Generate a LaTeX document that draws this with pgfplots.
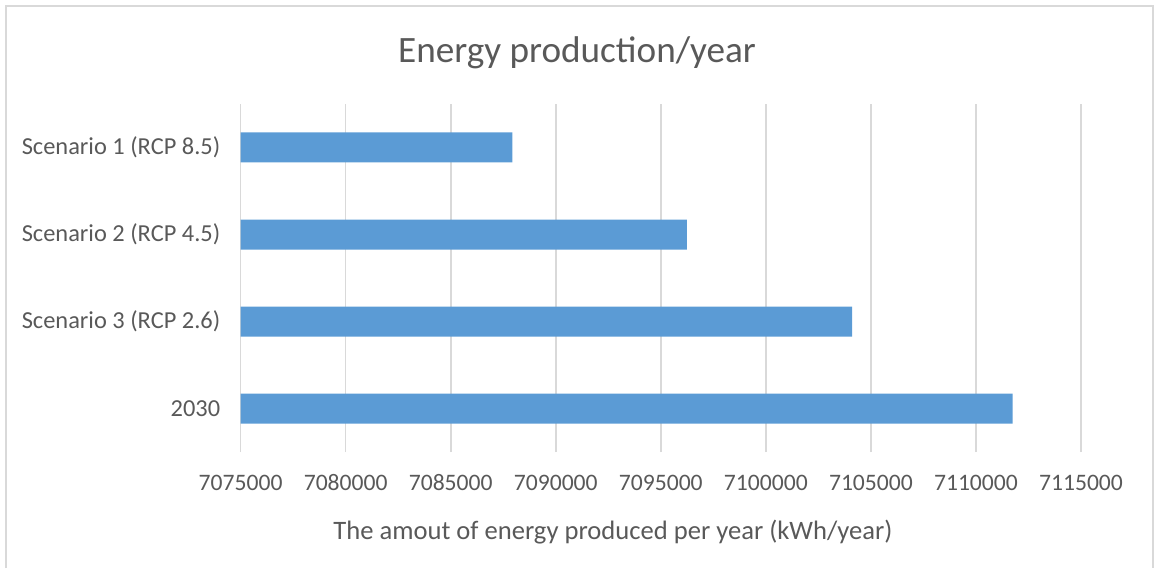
\documentclass[border=0pt]{standalone}
\usepackage{pgfplots}
\pgfplotsset{compat=1.18}
\usepackage{pgfplotstable}
\usepackage{fontspec}
\setmainfont{Carlito}
\definecolor{barblue}{HTML}{5B9BD5}
\definecolor{txt}{HTML}{595959}
\definecolor{gridc}{HTML}{D9D9D9}
\pgfplotstableread{
pos value
0 7111750
1 7104100
2 7096240
3 7087940
}\energydata
\begin{document}
\begin{tikzpicture}
\useasboundingbox (0,0) rectangle (577pt,284pt);
\draw[gridc, line width=0.8pt] (2.9pt,0) -- (2.9pt,281pt) -- (576.4pt,281pt) -- (576.4pt,0);
\begin{axis}[
  at={(120.3pt,58pt)}, anchor=south west,
  scale only axis, width=420.2pt, height=174pt,
  xmin=0, xmax=40000,
  ymin=-0.5, ymax=3.5,
  xtick={0,5000,10000,15000,20000,25000,30000,35000,40000},
  xticklabels={7075000,7080000,7085000,7090000,7095000,7100000,7105000,7110000,7115000},
  ytick={0,1,2,3},
  yticklabels={2030,Scenario 3 (RCP 2.6),Scenario 2 (RCP 4.5),Scenario 1 (RCP 8.5)},
  scaled x ticks=false,
  axis line style={draw=none},
  major tick length=0pt,
  xmajorgrids,
  grid style={gridc, line width=0.8pt},
  tick label style={text=txt},
  xticklabel style={font=\fontsize{11.8pt}{14pt}\selectfont, anchor=base, inner sep=0pt, yshift=-19.3pt},
  yticklabel style={font=\fontsize{12.2pt}{14pt}\selectfont, anchor=east, inner sep=0pt, xshift=-10pt},
  title={Energy production/year},
  title style={at={(axis description cs:0.4003,1)}, anchor=center, yshift=19.5pt, font=\fontsize{18.6pt}{22pt}\selectfont, text=txt},
  xlabel={The amout of energy produced per year (kWh/year)},
  xlabel style={at={(axis description cs:0.443,0)}, anchor=center, yshift=-40pt, font=\fontsize{13.3pt}{16pt}\selectfont, text=txt},
  xbar, bar width=15pt, bar shift=0pt,
  clip=false,
]
\addplot[fill=barblue, draw=none] table[x expr=\thisrow{value}-7075000, y=pos]{\energydata};
\end{axis}
\end{tikzpicture}
\end{document}
